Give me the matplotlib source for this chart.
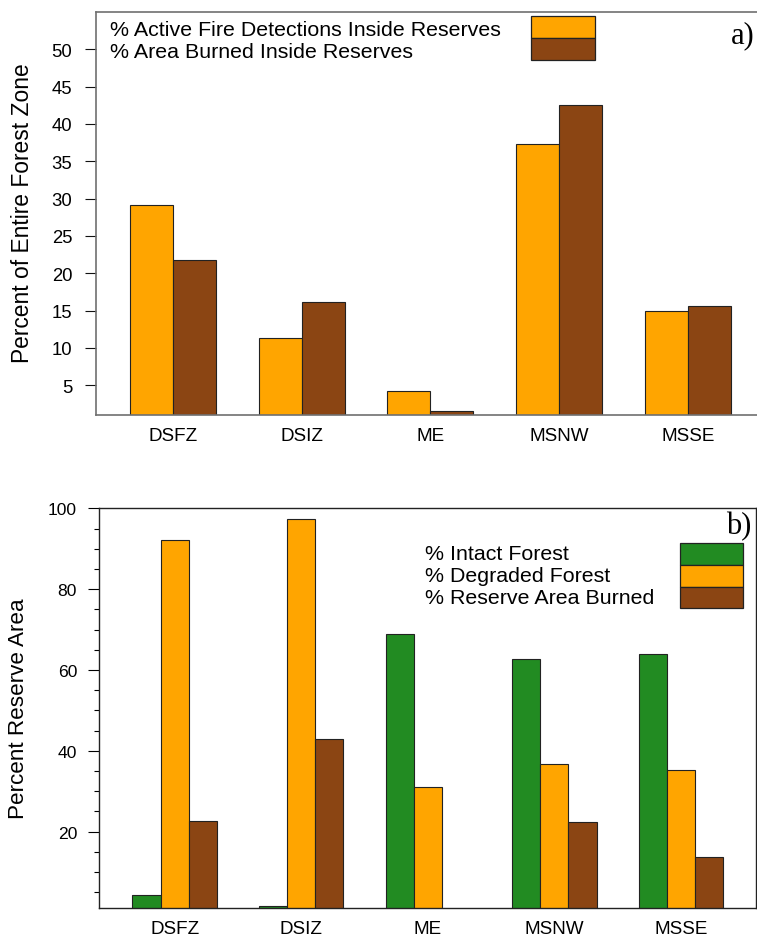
import numpy as np
import matplotlib
matplotlib.use("Agg")
import matplotlib.pyplot as plt
from matplotlib.patches import Rectangle

plt.rcParams['font.family'] = ['Liberation Sans', 'DejaVu Sans']

zones = ["DSFZ", "DSIZ", "ME", "MSNW", "MSSE"]

# panel a: share of the whole forest zone that falls inside reserves
fire_detections = [29.1, 11.3, 4.24, 37.3, 15.0]
area_burned = [21.8, 16.2, 1.5, 42.5, 15.6]

# panel b: composition of the reserve area
intact_forest = [4.2, 1.5, 68.9, 62.8, 64.0]
degraded_forest = [92.1, 97.3, 31.0, 36.8, 35.3]
reserve_burned = [22.6, 42.9, 0.0, 22.3, 13.6]

ORANGE = "#FFA500"
BROWN = "#8B4513"
GREEN = "#228B22"

W, H = 757, 937
fig = plt.figure(figsize=(W / 100, H / 100), dpi=100)


def fx(px):
    return px / W


def fy(py):
    return 1 - py / H


# ---------------- panel a ----------------
xlo_a, xhi_a = 0.208, 16.0
unit_a = (645 - 130) / 12.0
ax1 = fig.add_axes([fx(96), fy(416), (xhi_a - xlo_a) * unit_a / W, fy(13) - fy(416)])
x = np.arange(len(zones)) * 3
ax1.bar(x + 1.5, fire_detections, width=1, color=ORANGE, edgecolor="#222222", linewidth=0.8)
ax1.bar(x + 2.5, area_burned, width=1, color=BROWN, edgecolor="#222222", linewidth=0.8)
ax1.set_xlim(xlo_a, xhi_a)
ax1.set_ylim(1, 55)
ax1.set_yticks(np.arange(5, 55, 5))
ax1.set_xticks(x + 2)
ax1.set_xticklabels(zones)
ax1.tick_params(axis="y", length=8, width=0.8, color="#111111", pad=9, labelsize=13.3)
ax1.tick_params(axis="x", length=0, pad=8.6, labelsize=13.6)
for s in ax1.spines.values():
    s.set_color("#707070")
    s.set_linewidth(1.2)
fig.text(fx(23), fy(213), "Percent of Entire Forest Zone", rotation=90,
         ha="center", va="center", fontsize=16.4)

# legend a
leg_a = ["% Active Fire Detections Inside Reserves", "% Area Burned Inside Reserves"]
for label, ypx, col in zip(leg_a, [30, 52], [ORANGE, BROWN]):
    fig.text(fx(110), fy(ypx), label, ha="left", va="center", fontsize=15.4)
    fig.add_artist(Rectangle((fx(531), fy(ypx + 9)), fx(595) - fx(531), fy(17) - fy(39),
                             transform=fig.transFigure, facecolor=col,
                             edgecolor="#222222", linewidth=0.9))
fig.text(fx(731), fy(36), "a)", family="Liberation Serif", fontsize=22,
         ha="left", va="center")

# ---------------- panel b ----------------
ax2 = fig.add_axes([fx(99.3), fy(909.3), fx(756) - fx(99.3), fy(509.3) - fy(909.3)])
xb = np.arange(len(zones)) * 4.5
ax2.bar(xb + 0.5, intact_forest, width=1, color=GREEN, edgecolor="#222222", linewidth=0.8)
ax2.bar(xb + 1.5, degraded_forest, width=1, color=ORANGE, edgecolor="#222222", linewidth=0.8)
ax2.bar(xb + 2.5, reserve_burned, width=1, color=BROWN, edgecolor="#222222", linewidth=0.8)
ax2.set_xlim(-1.18, 22.17)
ax2.set_ylim(1, 100)
ax2.set_yticks([20, 40, 60, 80, 100])
ax2.set_yticks(np.arange(5, 100, 5), minor=True)
ax2.set_xticks(xb + 1.5)
ax2.set_xticklabels(zones)
ax2.tick_params(axis="y", which="major", length=8, width=0.8, pad=8, labelsize=12.6)
ax2.tick_params(axis="y", which="minor", length=3.8, width=0.8)
ax2.tick_params(axis="x", length=0, pad=8.6, labelsize=13.6)
for s in ax2.spines.values():
    s.set_color("#222222")
    s.set_linewidth(1.0)
fig.text(fx(19), fy(709), "Percent Reserve Area", rotation=90,
         ha="center", va="center", fontsize=16.2)

# legend b
leg_b = ["% Intact Forest", "% Degraded Forest", "% Reserve Area Burned"]
for label, ypx, col in zip(leg_b, [555, 576.7, 598.3], [GREEN, ORANGE, BROWN]):
    fig.text(fx(425), fy(ypx), label, ha="left", va="center", fontsize=15.4)
    fig.add_artist(Rectangle((fx(680), fy(ypx + 10.8)), fx(743.3) - fx(680), fy(542.7) - fy(564.3),
                             transform=fig.transFigure, facecolor=col,
                             edgecolor="#222222", linewidth=0.9))
fig.text(fx(726), fy(527), "b)", family="Liberation Serif", fontsize=22,
         ha="left", va="center")

fig.savefig("out.png", dpi=100)
